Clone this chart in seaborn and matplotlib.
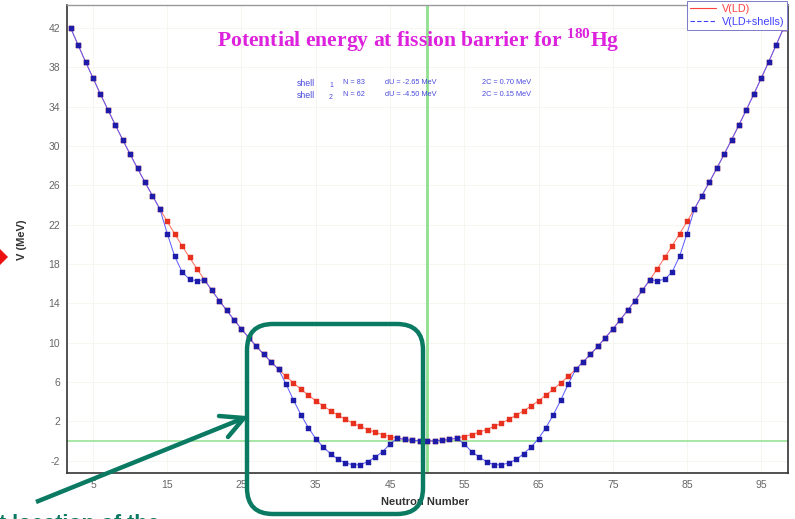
import matplotlib
matplotlib.use("Agg")
import matplotlib.pyplot as plt
import seaborn as sns
import pandas as pd
from matplotlib.lines import Line2D
from matplotlib.patches import FancyBboxPatch, Polygon

# ---- data -------------------------------------------------------------
neutron_number = list(range(2, 99))

v_ld = [
    42.00, 40.27, 38.57, 36.92, 35.29, 33.71, 32.16, 30.64, 29.17, 27.73,
    26.32, 24.96, 23.62, 22.33, 21.07, 19.85, 18.67, 17.52, 16.41, 15.33,
    14.29, 13.29, 12.32, 11.39, 10.50, 9.64, 8.82, 8.04, 7.29, 6.58,
    5.91, 5.27, 4.67, 4.10, 3.57, 3.08, 2.63, 2.21, 1.82, 1.48,
    1.17, 0.89, 0.66, 0.46, 0.29, 0.16, 0.07, 0.02, 0.00,
    0.02, 0.07, 0.16, 0.29, 0.46, 0.66, 0.89, 1.17, 1.48, 1.82,
    2.21, 2.63, 3.08, 3.57, 4.10, 4.67, 5.27, 5.91, 6.58, 7.29,
    8.04, 8.82, 9.64, 10.50, 11.39, 12.32, 13.29, 14.29, 15.33, 16.41,
    17.52, 18.67, 19.85, 21.07, 22.33, 23.62, 24.96, 26.32, 27.73, 29.17,
    30.64, 32.16, 33.71, 35.29, 36.92, 38.57, 40.27, 42.00,
]

v_ld_shells = [
    42.00, 40.27, 38.57, 36.92, 35.29, 33.71, 32.16, 30.64, 29.17, 27.73,
    26.32, 24.96, 23.62, 21.10, 18.80, 17.20, 16.45, 16.30, 16.41, 15.33,
    14.29, 13.29, 12.32, 11.39, 10.50, 9.64, 8.82, 8.04, 7.29, 5.79,
    4.17, 2.68, 1.37, 0.25, -0.61, -1.29, -1.87, -2.23, -2.42, -2.41,
    -2.10, -1.63, -1.08, -0.31, 0.29, 0.16, 0.07, 0.02, 0.00,
    0.02, 0.07, 0.16, 0.29, -0.31, -1.08, -1.63, -2.10, -2.41, -2.42,
    -2.23, -1.87, -1.29, -0.61, 0.25, 1.37, 2.68, 4.17, 5.79, 7.29,
    8.04, 8.82, 9.64, 10.50, 11.39, 12.32, 13.29, 14.29, 15.33, 16.41,
    16.30, 16.45, 17.20, 18.80, 21.10, 23.62, 24.96, 26.32, 27.73, 29.17,
    30.64, 32.16, 33.71, 35.29, 36.92, 38.57, 40.27, 42.00,
]

x_ticks = [5, 15, 25, 35, 45, 55, 65, 75, 85, 95]
y_ticks = [-2, 2, 6, 10, 14, 18, 22, 26, 30, 34, 38, 42]

series_labels = ["V(LD)", "V(LD+shells)"]
shell_rows = [
    ("1", "N = 83", "dU = -2.65 MeV", "2C = 0.70 MeV"),
    ("2", "N = 62", "dU = -4.50 MeV", "2C = 0.15 MeV"),
]

df = pd.DataFrame({"N": neutron_number, "ld": v_ld, "ld_shells": v_ld_shells})

# ---- style ------------------------------------------------------------
sns.set_style("white")
plt.rcParams["font.family"] = ["Liberation Sans", "DejaVu Sans"]
plt.rcParams["axes.unicode_minus"] = False
plt.rcParams["mathtext.fontset"] = "custom"
plt.rcParams["mathtext.rm"] = "Liberation Serif:bold"
plt.rcParams["mathtext.bf"] = "Liberation Serif:bold"

W, H = 795, 519
fig = plt.figure(figsize=(W / 100, H / 100), dpi=100)
fig.patch.set_facecolor("white")

L, R, T, B = 67, 788, 5, 473
ax = fig.add_axes([L / W, 1 - B / H, (R - L) / W, (B - T) / H])

# reference lines
ax.axhline(0, color="#8fe08f", lw=1.1, zorder=1)
ax.axvline(50, color="#8fe08f", lw=2.0, zorder=1)

sns.lineplot(data=df, x="N", y="ld", ax=ax, color="#ff6a5a", lw=0.7,
             marker="s", markersize=3.6, markerfacecolor="#e8301e",
             markeredgecolor="#e8301e", markeredgewidth=0.3, zorder=3,
             legend=False)
sns.lineplot(data=df, x="N", y="ld_shells", ax=ax, color="#5a5aff", lw=0.7,
             marker="s", markersize=3.6, markerfacecolor="#1c1ca8",
             markeredgecolor="#1c1ca8", markeredgewidth=0.3, zorder=4,
             legend=False)

ax.set_xlim(1.5, 98.6)
ax.set_ylim(-3.25, 44.35)
ax.set_xticks(x_ticks)
ax.set_yticks(y_ticks)
ax.tick_params(axis="both", direction="in", length=3, width=0.6,
               colors="#666666", labelsize=7.5, pad=5)
ax.grid(True, color="#f6f6f0", lw=0.7)

for side in ["left", "bottom", "right"]:
    ax.spines[side].set_color("#333333")
    ax.spines[side].set_linewidth(1.2)
ax.spines["top"].set_color("#999999")
ax.spines["top"].set_linewidth(1.0)

ax.set_xlabel("Neutron Number", fontsize=8, fontweight="bold", color="#333333")
ax.set_ylabel("V (MeV)", fontsize=8, fontweight="bold", color="#333333")
ax.xaxis.set_label_coords(0.4965, -0.051)
ax.yaxis.set_label_coords(-0.0555, 0.498)

handles = [Line2D([], [], color="#ff4040", lw=0.8),
           Line2D([], [], color="#4040ff", lw=0.8, ls=(0, (4, 2)))]
leg = ax.legend(handles, series_labels, loc="upper right",
                bbox_to_anchor=(0.999, 1.009), borderaxespad=0, fontsize=7.8,
                frameon=True, fancybox=False, edgecolor="#7a7ac8",
                framealpha=1, labelcolor=["#ff4040", "#4040ff"],
                handlelength=2.4, borderpad=0.3, labelspacing=0.25,
                handletextpad=0.5)
leg.get_frame().set_linewidth(0.7)
leg.set_zorder(10)

# ---- overlay in pixel units -------------------------------------------
ov = fig.add_axes([0, 0, 1, 1], zorder=20)
ov.set_xlim(0, W)
ov.set_ylim(H, 0)
ov.axis("off")

ov.text(418, 47, "Potential energy at fission barrier for $^{180}$Hg",
        ha="center", va="baseline", fontsize=15.6, color="#dd22dd",
        family="Liberation Serif", fontweight="bold")

shell_color = "#4a4adf"
for i, (idx, n_txt, du_txt, c_txt) in enumerate(shell_rows):
    y = 83 + 12 * i
    ov.text(297, y, "shell", fontsize=6.3, color=shell_color, va="center")
    ov.text(329, y + 2.5, idx, fontsize=5, color=shell_color, va="center")
    ov.text(343, y, n_txt, fontsize=5.3, color=shell_color, va="center")
    ov.text(385, y, du_txt, fontsize=5.3, color=shell_color, va="center")
    ov.text(482, y, c_txt, fontsize=5.3, color=shell_color, va="center")

teal = "#0a7a62"
box = FancyBboxPatch((247, 324), 176, 190,
                     boxstyle="round,pad=0,rounding_size=26",
                     fill=False, ec=teal, lw=3.2)
ov.add_patch(box)

ov.plot([36, 244], [502, 418], color=teal, lw=3.2, solid_capstyle="butt")
ov.plot([219, 244, 228], [416, 418, 437], color=teal, lw=3.2,
        solid_joinstyle="miter")

ov.add_patch(Polygon([(0, 249), (0, 265), (8, 257)], closed=True,
                     color="#ee1111", lw=0))

ov.text(-1, 530, "t location of the", fontsize=15.5, fontweight="bold",
        color=teal, va="baseline", ha="left")

fig.savefig("out.png", dpi=100)
